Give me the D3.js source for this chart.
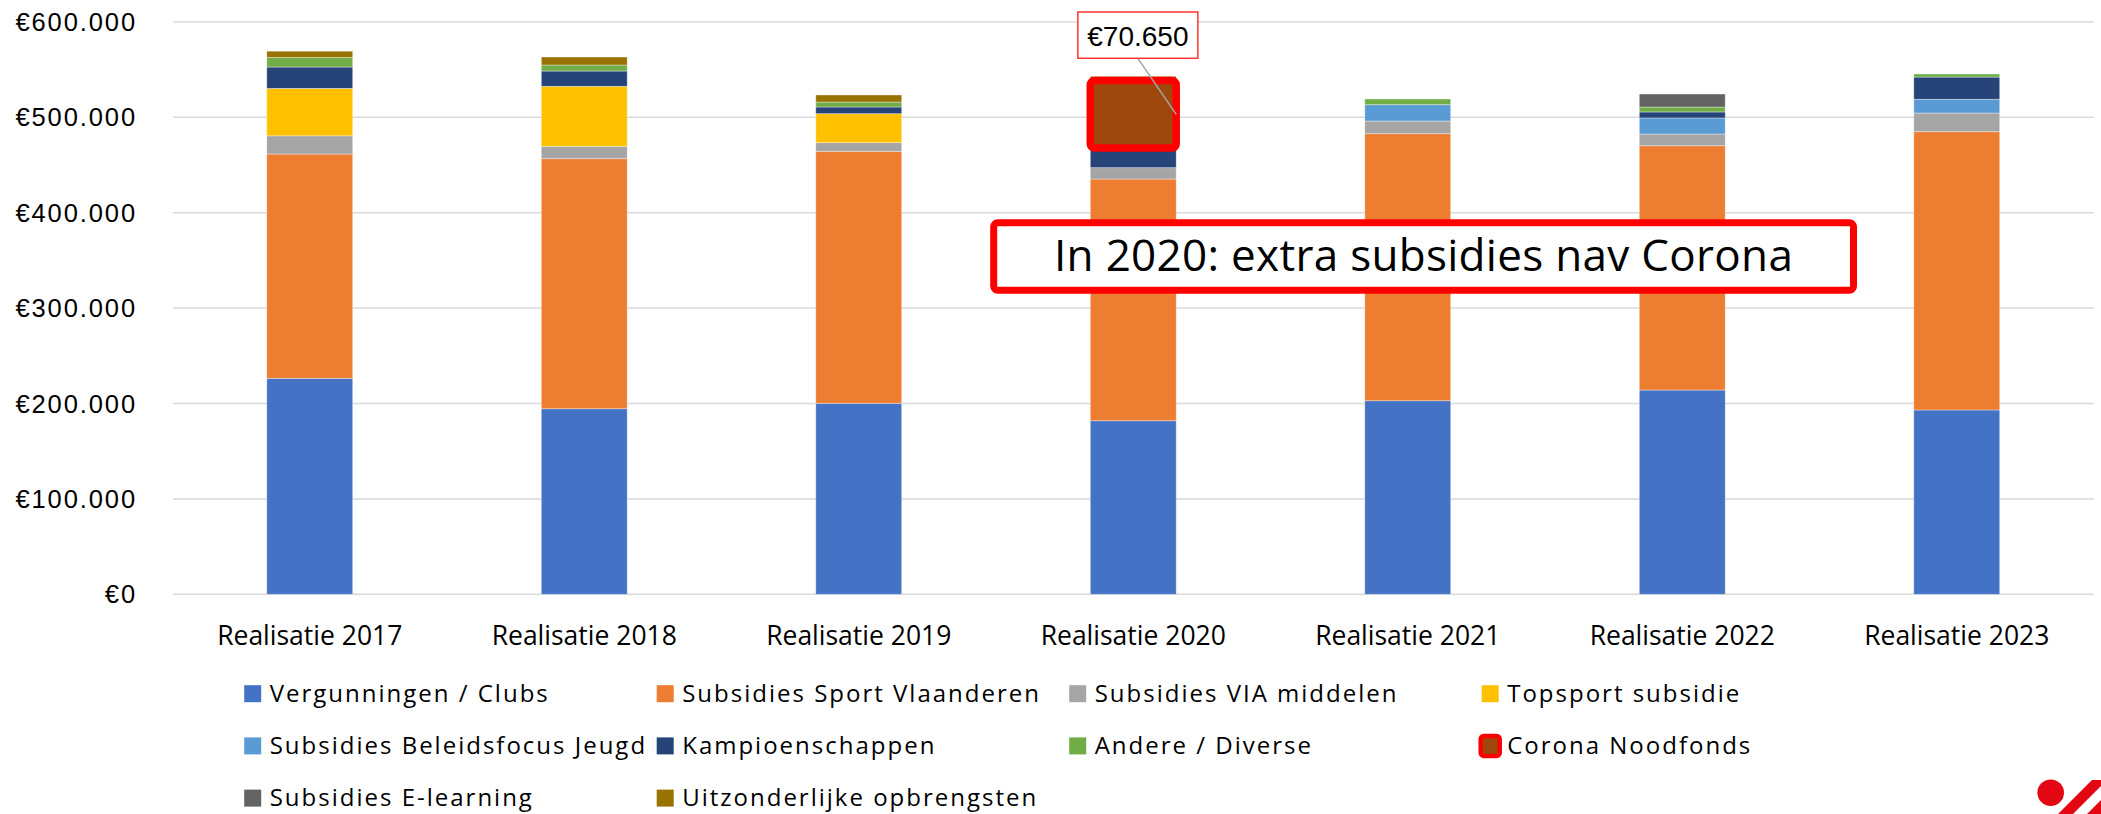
<!DOCTYPE html>
<html>
<head>
<meta charset="utf-8">
<script src="https://cdn.jsdelivr.net/npm/d3@7"></script>
<style>
  html, body { margin: 0; padding: 0; background: #fff; }
  svg { display: block; }
</style>
</head>
<body>
<svg id="chart" width="2101" height="814"></svg>
<script>
// ---------- DATA ----------
const categories = ["Realisatie 2017", "Realisatie 2018", "Realisatie 2019", "Realisatie 2020", "Realisatie 2021", "Realisatie 2022", "Realisatie 2023"];

const seriesNames = [
  "Vergunningen / Clubs",
  "Subsidies Sport Vlaanderen",
  "Subsidies VIA middelen",
  "Topsport subsidie",
  "Subsidies Beleidsfocus Jeugd",
  "Kampioenschappen",
  "Andere / Diverse",
  "Corona Noodfonds",
  "Subsidies E-learning",
  "Uitzonderlijke opbrengsten"
];

const vergunningen   = [226400, 194500, 200200, 181900, 202900, 214100, 193200];
const sportVlaanderen = [235100, 262100, 264200, 253400, 279900, 256100, 291700];
const viaMiddelen    = [19100, 13000, 9000, 11900, 13300, 12300, 19600];
const topsport       = [49700, 62900, 30400, 0, 0, 0, 0];
const beleidsfocus   = [0, 0, 0, 0, 17100, 16800, 14400];
const kampioenschappen = [22400, 16000, 7000, 20600, 0, 6300, 23300];
const andere         = [10000, 6300, 5200, 0, 6000, 5200, 3200];
const corona         = [0, 0, 0, 70650, 0, 0, 0];
const eLearning      = [0, 0, 0, 0, 0, 13600, 0];
const uitzonderlijk  = [6600, 8400, 7400, 4500, 0, 0, 0];

const yTicks = [0, 100000, 200000, 300000, 400000, 500000, 600000];
const coronaLabel = "€70.650";
const annotationText = "In 2020: extra subsidies nav Corona";

// ---------- STYLE ----------
const seriesColors = ["#4472C4", "#ED7D31", "#A5A5A5", "#FFC000", "#5B9BD5", "#264478", "#70AD47", "#9E480E", "#636363", "#997300"];

const seriesValues = [vergunningen, sportVlaanderen, viaMiddelen, topsport, beleidsfocus, kampioenschappen, andere, corona, eLearning, uitzonderlijk];

const table = categories.map((c, i) => {
  const row = { cat: c };
  seriesNames.forEach((s, k) => row[s] = seriesValues[k][i]);
  return row;
});

const svg = d3.select("#chart");

const x = d3.scaleBand().domain(categories).range([172.5, 2094]).paddingInner(0.687).paddingOuter(0.3435);
const y = d3.scaleLinear().domain([0, 600000]).range([594.3, 21.9]);

const locale = d3.formatLocale({ decimal: ",", thousands: ".", grouping: [3], currency: ["€", ""] });
const fmt = locale.format("$,.0f");

// gridlines
svg.append("g").selectAll("line").data(yTicks).join("line")
  .attr("x1", 173).attr("x2", 2094)
  .attr("y1", d => y(d)).attr("y2", d => y(d))
  .attr("stroke", "#d9d9d9").attr("stroke-width", 1.5);

// y tick labels
svg.append("g").selectAll("text").data(yTicks).join("text")
  .attr("x", 137).attr("y", d => y(d))
  .attr("text-anchor", "end").attr("dominant-baseline", "central")
  .attr("font-family", "'Liberation Sans', Arial, sans-serif")
  .attr("font-size", 25.5).attr("letter-spacing", "1.9px")
  .attr("fill", "#000")
  .text(d => fmt(d));

// stacks
const stack = d3.stack().keys(seriesNames);
const layers = stack(table);

const gBars = svg.append("g");
layers.forEach((layer, k) => {
  gBars.append("g").attr("fill", seriesColors[k])
    .selectAll("rect").data(layer.filter(d => d[1] - d[0] > 0)).join("rect")
    .attr("x", d => x(d.data.cat))
    .attr("width", x.bandwidth())
    .attr("y", d => y(d[1]))
    .attr("height", d => y(d[0]) - y(d[1]))
    .attr("stroke", "#ffffff").attr("stroke-opacity", 0.45).attr("stroke-width", 0.8);
});

// category labels
svg.append("g").selectAll("text").data(categories).join("text")
  .attr("x", d => x(d) + x.bandwidth() / 2)
  .attr("y", 644.5)
  .attr("text-anchor", "middle")
  .attr("font-family", "'Open Sans', 'Noto Sans', sans-serif")
  .attr("font-size", 26.5).attr("fill", "#000")
  .text(d => d);

// Corona highlight
const coronaIdx = seriesNames.indexOf("Corona Noodfonds");
const coronaLayer = layers[coronaIdx];
coronaLayer.filter(d => d[1] - d[0] > 0).forEach(d => {
  const bx = x(d.data.cat), bw = x.bandwidth();
  svg.append("rect")
    .attr("x", bx).attr("y", y(d[1]))
    .attr("width", bw).attr("height", y(d[0]) - y(d[1]))
    .attr("rx", 4).attr("fill", "none")
    .attr("stroke", "#FF0000").attr("stroke-width", 7.5);

  const cx = bx + bw / 2 + 4.6;
  const boxW = 120, boxTop = 12, boxH = 46.3;
  svg.append("line")
    .attr("x1", cx).attr("y1", boxTop + boxH)
    .attr("x2", bx + bw).attr("y2", y((d[0] + d[1]) / 2))
    .attr("stroke", "#a6a6a6").attr("stroke-width", 1.5);
  svg.append("rect")
    .attr("x", cx - boxW / 2).attr("y", boxTop)
    .attr("width", boxW).attr("height", boxH)
    .attr("fill", "#fff").attr("stroke", "#ff3333").attr("stroke-width", 1.5);
  svg.append("text")
    .attr("x", cx).attr("y", boxTop + 34)
    .attr("text-anchor", "middle")
    .attr("font-family", "'Liberation Sans', Arial, sans-serif")
    .attr("font-size", 28).attr("fill", "#000")
    .text(coronaLabel);
});

// annotation box
svg.append("rect")
  .attr("x", 993.7).attr("y", 222.7).attr("width", 859.8).attr("height", 67.6)
  .attr("rx", 4).attr("fill", "#fff")
  .attr("stroke", "#FF0000").attr("stroke-width", 7);
svg.append("text")
  .attr("x", 1423.6).attr("y", 270.7)
  .attr("text-anchor", "middle")
  .attr("font-family", "'Open Sans', 'Noto Sans', sans-serif")
  .attr("font-size", 44).attr("letter-spacing", "0.3px").attr("fill", "#000")
  .text(annotationText);

// legend
const legend = svg.append("g");
seriesNames.forEach((s, k) => {
  const col = k % 4, row = Math.floor(k / 4);
  const lx = 244.2 + col * 412.5;
  const ly = 693.7 + row * 52.2;
  const g = legend.append("g");
  if (s === "Corona Noodfonds") {
    g.append("rect").attr("x", lx - 1).attr("y", ly - 10)
      .attr("width", 19).attr("height", 20).attr("rx", 3)
      .attr("fill", seriesColors[k]).attr("stroke", "#FF0000").attr("stroke-width", 4.5);
  } else {
    g.append("rect").attr("x", lx).attr("y", ly - 8.5)
      .attr("width", 17).attr("height", 17).attr("fill", seriesColors[k]);
  }
  g.append("text").attr("x", lx + 25.5).attr("y", ly + 8.3)
    .attr("font-family", "'Open Sans', 'Noto Sans', sans-serif")
    .attr("font-size", 24).attr("letter-spacing", "2px").attr("fill", "#000")
    .text(s);
});

// logo (partially visible, bottom right)
const logo = svg.append("g").attr("fill", "#E30613");
logo.append("circle").attr("cx", 2050.7).attr("cy", 792.7).attr("r", 13.3);
logo.append("polygon").attr("points", "2058,814 2073,814 2107,780 2092,780");
logo.append("polygon").attr("points", "2087,814 2102,814 2136,780 2121,780");
</script>
</body>
</html>
